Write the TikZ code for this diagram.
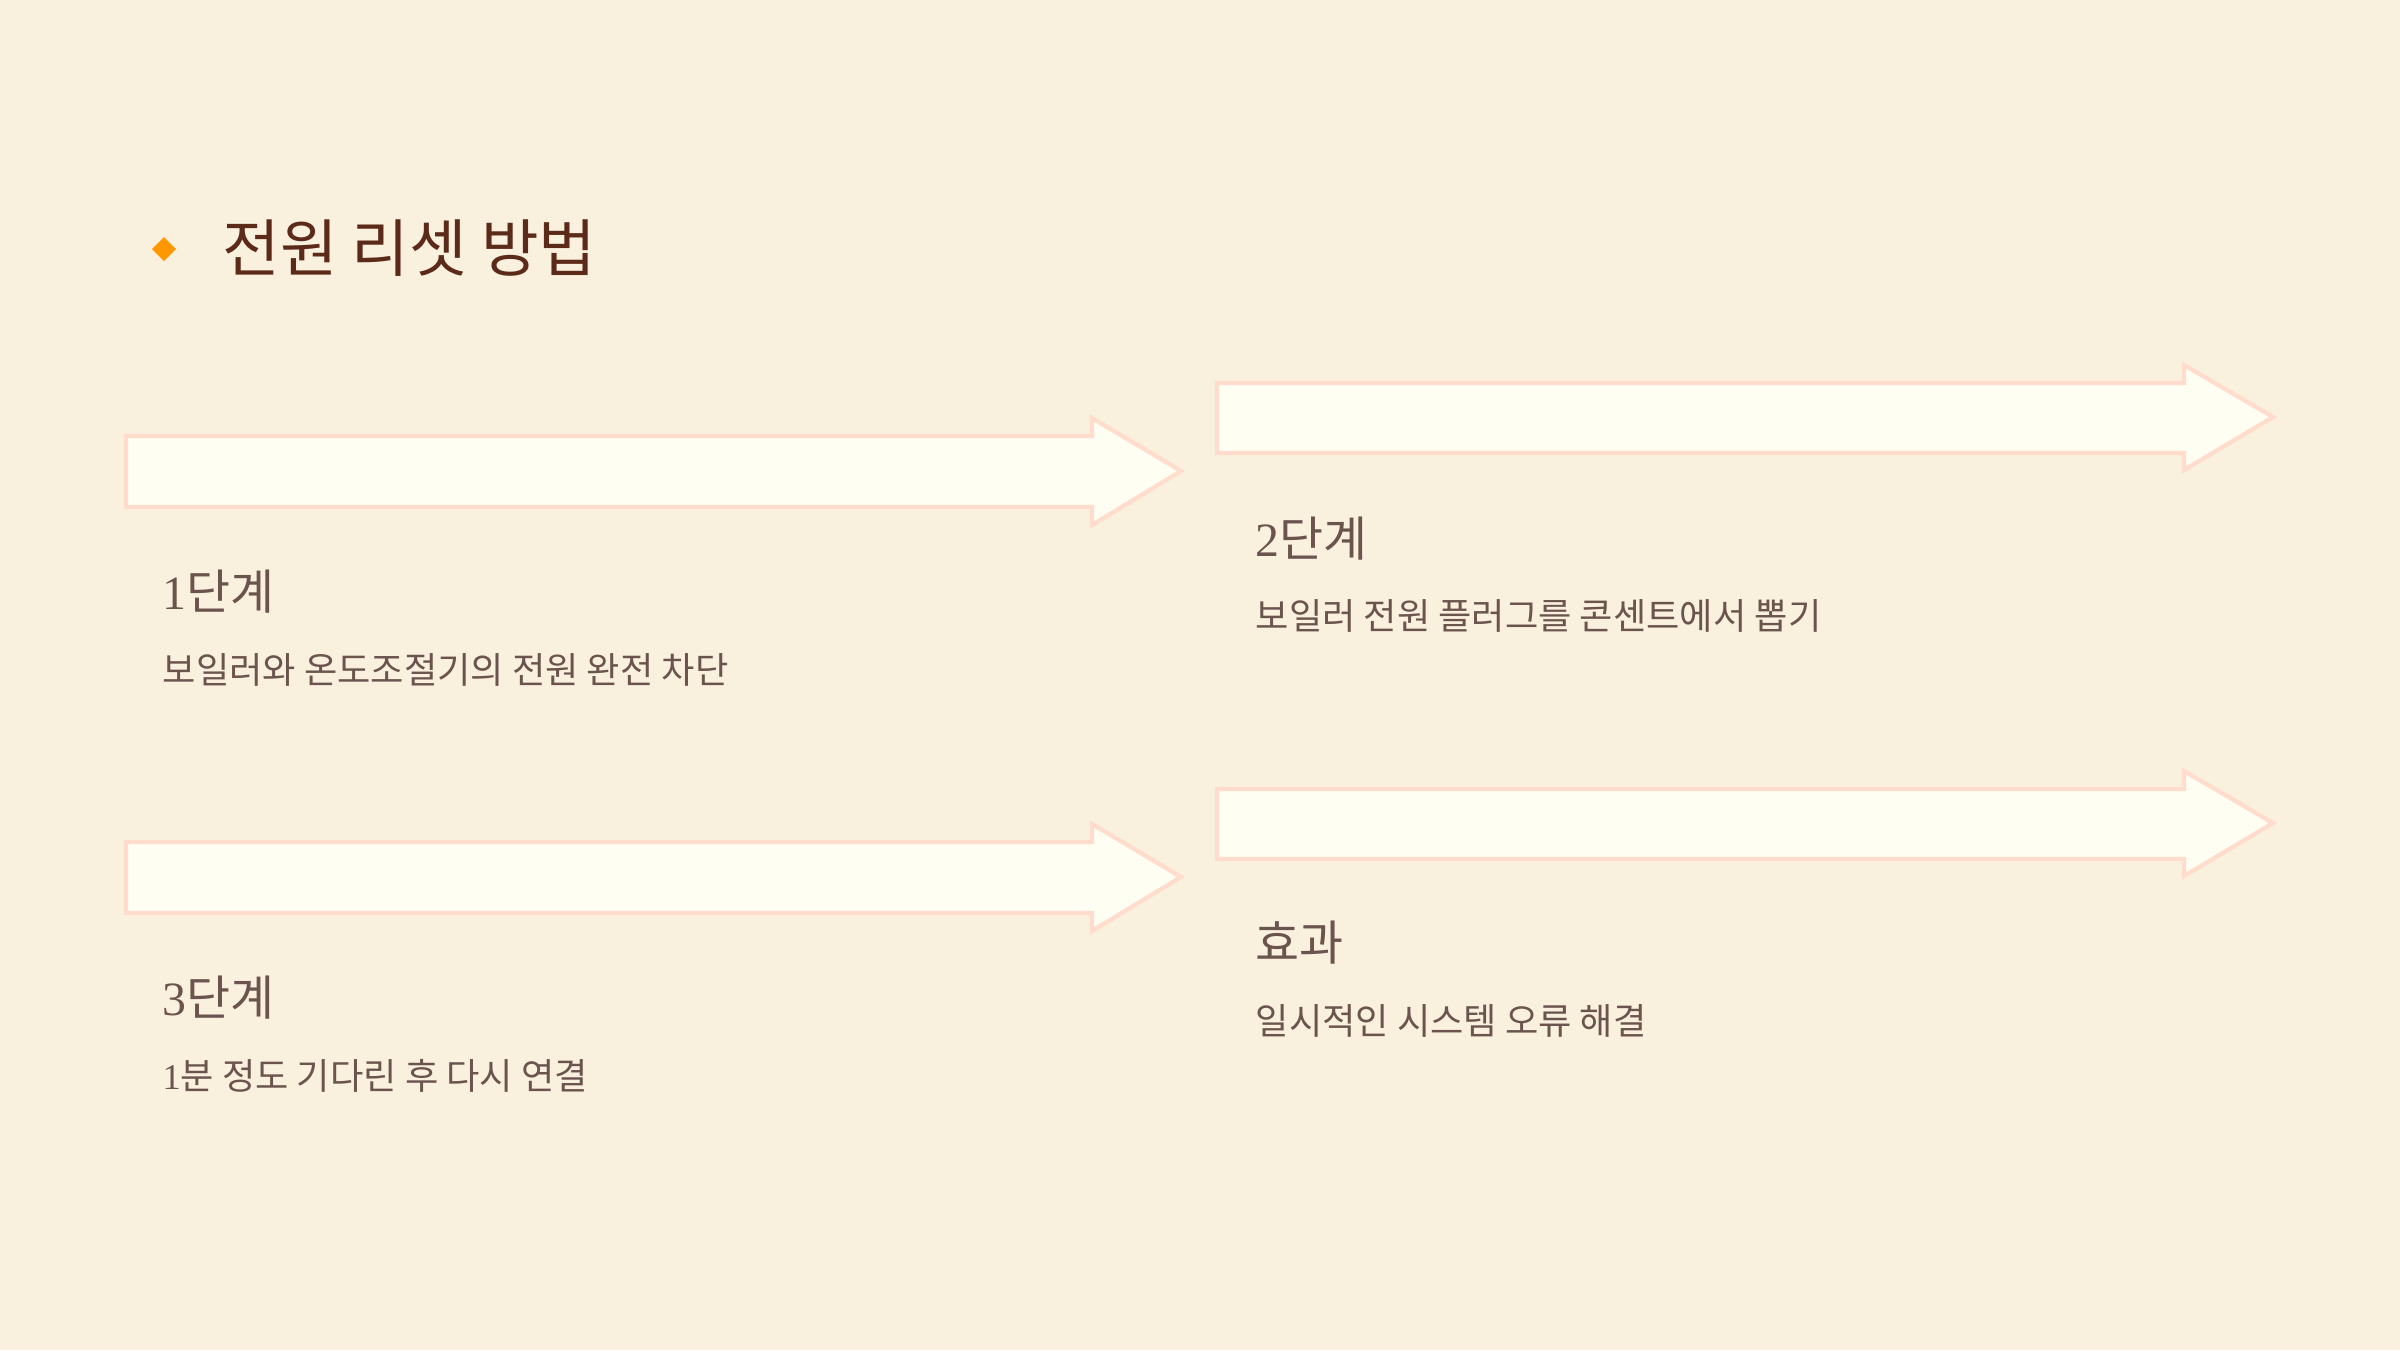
\documentclass[tikz,border=0pt]{standalone}
\usepackage{fontspec}
\newfontfamily\kr{Noto Sans CJK KR}
\newfontfamily\digitfont{Liberation Serif}
\definecolor{bgc}{HTML}{FAF0DE}
\definecolor{arrowfill}{HTML}{FFFEF3}
\definecolor{arrowline}{HTML}{FFDCCB}
\definecolor{titlec}{HTML}{5C2A18}
\definecolor{textc}{HTML}{6B544D}
\definecolor{diamc}{HTML}{FF9800}
\tikzset{
  bigarrow/.style={fill=arrowfill, draw=arrowline, line width=1.2pt, line join=miter},
  titletext/.style={anchor=west, inner sep=0pt, text=titlec, font=\kr\fontsize{17.8pt}{21pt}\selectfont},
  headtext/.style={anchor=west, inner sep=0pt, text=textc, font=\kr\fontsize{13.6pt}{16pt}\selectfont},
  desctext/.style={anchor=west, inner sep=0pt, text=textc, font=\kr\fontsize{10.3pt}{12.5pt}\selectfont},
}
\begin{document}
\begin{tikzpicture}[x=0.01cm,y=-0.01cm]
\fill[bgc] (0,0) rectangle (2400,1350);
\useasboundingbox (0,0) rectangle (2400,1350);
% title
\fill[diamc] (164,237) -- (176,249) -- (164,261) -- (152,249) -- cycle;
\node[titletext] (title) at (222,248) {전원 리셋 방법};
% arrows
\draw[bigarrow] (126,436) -- (1092,436) -- (1092,418) -- (1181,471) -- (1092,525) -- (1092,507) -- (126,507) -- cycle;
\draw[bigarrow] (1217,383) -- (2184,383) -- (2184,365) -- (2273,417) -- (2184,470) -- (2184,453) -- (1217,453) -- cycle;
\draw[bigarrow] (126,842) -- (1092,842) -- (1092,824) -- (1181,877) -- (1092,931) -- (1092,913) -- (126,913) -- cycle;
\draw[bigarrow] (1217,789) -- (2184,789) -- (2184,771) -- (2273,823) -- (2184,876) -- (2184,859) -- (1217,859) -- cycle;
% texts
\node[headtext] (h1) at (162,592) {{\digitfont 1}단계};
\node[desctext] (d1) at (162,670) {보일러와 온도조절기의 전원 완전 차단};
\node[headtext] (h2) at (1255,539) {{\digitfont 2}단계};
\node[desctext] (d2) at (1255,616) {보일러 전원 플러그를 콘센트에서 뽑기};
\node[headtext] (h3) at (162,998) {{\digitfont 3}단계};
\node[desctext] (d3) at (162,1076) {{\digitfont 1}분 정도 기다린 후 다시 연결};
\node[headtext] (h4) at (1255,943) {효과};
\node[desctext] (d4) at (1255,1021) {일시적인 시스템 오류 해결};
\end{tikzpicture}
\end{document}
